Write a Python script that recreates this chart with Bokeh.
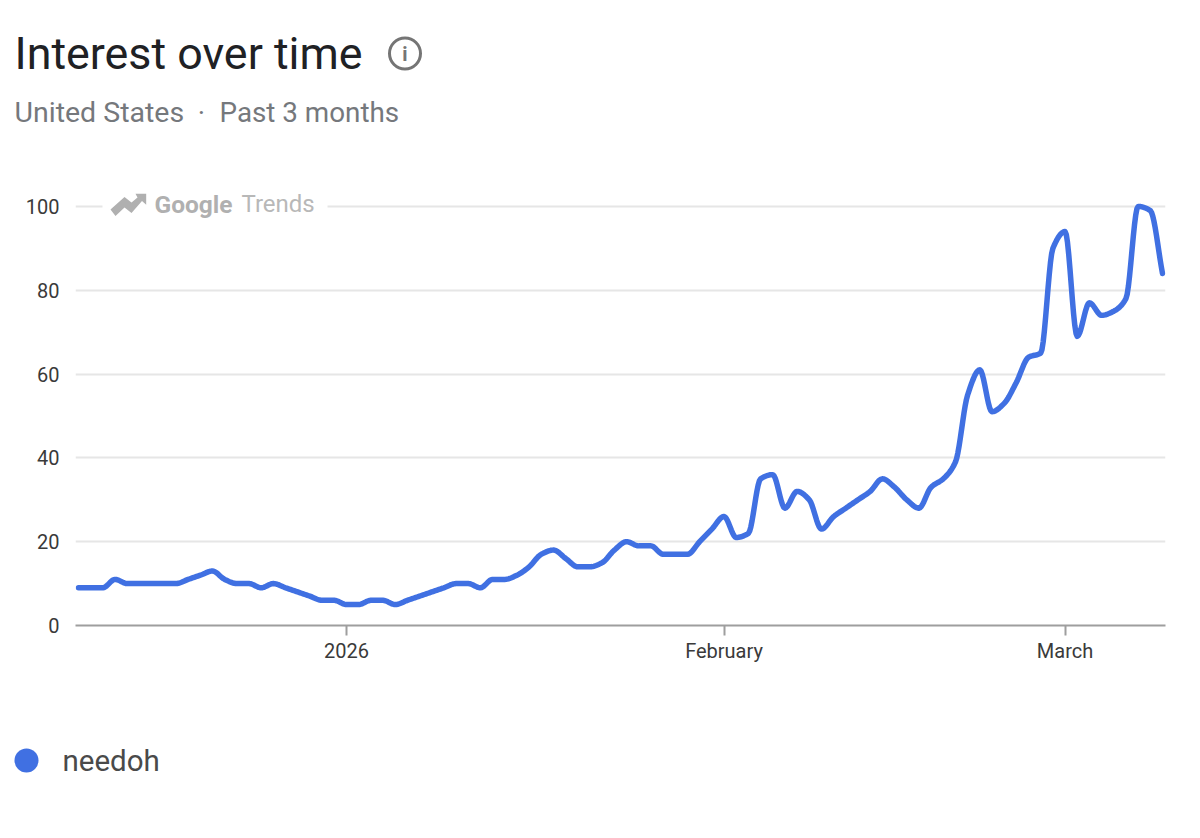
import numpy as np
import pandas as pd
from bokeh.plotting import figure
from bokeh.layouts import column
from bokeh.embed import file_html
from bokeh.resources import INLINE
from bokeh.core.properties import value
from bokeh.models import Label, BoxAnnotation, PolyAnnotation, FixedTicker, Range1d

title_text = "Interest over time"
subtitle_parts = ["United States", "·", "Past 3 months"]
series_name = "needoh"
start_date = "2025-12-10"
y_ticks = [0, 20, 40, 60, 80, 100]
x_tick_dates = ["2026-01-01", "2026-02-01", "2026-03-01"]
x_tick_labels = ["2026", "February", "March"]
interest = [
    9, 9, 9, 11, 10, 10, 10, 10, 10, 11,
    12, 13, 11, 10, 10, 9, 10, 9, 8, 7,
    6, 6, 5, 5, 6, 6, 5, 6, 7, 8,
    9, 10, 10, 9, 11, 11, 12, 14, 17, 18,
    16, 14, 14, 15, 18, 20, 19, 19, 17, 17,
    17, 20, 23, 26, 21, 22, 35, 36, 28, 32,
    30, 23, 26, 28, 30, 32, 35, 33, 30, 28,
    33, 35, 39, 55, 61, 51, 53, 58, 64, 65,
    90, 94, 69, 77, 74, 75, 78, 100, 99, 84,
]

BLUE = "#4070e2"
FONT = "Roboto"
W = 1196
TOP_H = 164
MAIN_H = 536
BOTTOM_H = 134
PLOT_LEFT = 78
PLOT_RIGHT = 1162
CAP_PAD = 2.5  # room so the line's round ends are not cut by the frame


def ms(d):
    return (pd.Timestamp(d) - pd.Timestamp("1970-01-01")) / pd.Timedelta(milliseconds=1)


def monotone_curve(x, y, n=10):
    # Fritsch-Carlson monotone cubic: only the drawing of the stroke, knots stay on the data
    x = np.asarray(x, float)
    y = np.asarray(y, float)
    h = np.diff(x)
    d = np.diff(y) / h
    m = np.zeros_like(y)
    m[1:-1] = np.where(d[:-1] * d[1:] > 0, 2 * d[:-1] * d[1:] / (d[:-1] + d[1:] + 1e-30), 0)
    m[0], m[-1] = d[0], d[-1]
    xs, ys = [], []
    for i in range(len(h)):
        t = np.linspace(0, 1, n, endpoint=False)
        xs.append(x[i] + t * h[i])
        ys.append((2*t**3 - 3*t**2 + 1) * y[i] + (t**3 - 2*t**2 + t) * h[i] * m[i]
                  + (-2*t**3 + 3*t**2) * y[i+1] + (t**3 - t**2) * h[i] * m[i+1])
    return np.append(np.concatenate(xs), x[-1]), np.append(np.concatenate(ys), y[-1])


def pixel_figure(height, page_top):
    # empty strip whose data units are page pixels
    f = figure(width=W, height=height, output_backend="svg", toolbar_location=None,
               x_axis_location=None, y_axis_location=None, min_border=0, frame_align=False,
               x_range=Range1d(0, W), y_range=Range1d(page_top + height, page_top))
    f.outline_line_color = None
    f.xgrid.visible = False
    f.ygrid.visible = False
    return f


def put_text(f, x, y, text, size, color, style="normal", align="left"):
    f.text([x], [y], text=[text], text_font=value(FONT), text_font_size=value(size),
           text_color=color, text_font_style=style, text_baseline="middle", text_align=align)


dates = pd.date_range(start_date, periods=len(interest), freq="D")
x_ms = np.array([ms(d) for d in dates])
cx, cy = monotone_curve(x_ms, interest)
ms_per_px = (x_ms[-1] - x_ms[0]) / (PLOT_RIGHT - PLOT_LEFT)

# header
head = pixel_figure(TOP_H, 0)
put_text(head, 14, 53, title_text, "44.8px", "#202124")
put_text(head, 14, 112, subtitle_parts[0], "28.5px", "#75787c")
put_text(head, 201, 112, subtitle_parts[1], "28px", "#75787c", align="center")
put_text(head, 219, 112, subtitle_parts[2], "27.8px", "#75787c")
head.scatter([404.5], [53], marker="circle", size=31, fill_alpha=0, line_color="#757575", line_width=3)
put_text(head, 404.5, 53.5, "i", "20px", "#757575", "bold", "center")

# chart
p = figure(width=W, height=MAIN_H, x_axis_type="datetime", output_backend="svg",
           toolbar_location=None, min_border_left=int(PLOT_LEFT - CAP_PAD),
           min_border_right=int(W - PLOT_RIGHT - CAP_PAD),
           min_border_top=0, min_border_bottom=MAIN_H - 461, frame_align=False,
           x_range=Range1d(x_ms[0] - 3 * ms_per_px, x_ms[-1] + 3 * ms_per_px), y_range=Range1d(0, 110))
p.outline_line_color = None
p.background_fill_color = "white"
p.border_fill_color = "white"

p.xgrid.grid_line_color = None
p.ygrid.grid_line_color = "#e6e6e6"
p.ygrid.grid_line_width = 2
p.ygrid.ticker = FixedTicker(ticks=y_ticks)

p.yaxis.ticker = FixedTicker(ticks=y_ticks)
p.yaxis.axis_line_color = None
p.yaxis.major_tick_line_color = None
p.yaxis.major_tick_out = 0
p.yaxis.major_tick_in = 0
p.yaxis.minor_tick_line_color = None
p.yaxis.major_label_standoff = 16
p.yaxis.major_label_text_font = FONT
p.yaxis.major_label_text_font_size = "20px"
p.yaxis.major_label_text_color = "#3a3a3a"

p.xaxis.ticker = FixedTicker(ticks=[ms(d) for d in x_tick_dates])
p.xaxis.major_label_overrides = {ms(d): t for d, t in zip(x_tick_dates, x_tick_labels)}
p.xaxis.axis_line_color = "#9e9e9e"
p.xaxis.axis_line_width = 2
p.xaxis.major_tick_line_color = "#9e9e9e"
p.xaxis.major_tick_line_width = 2
p.xaxis.major_tick_in = 0
p.xaxis.major_tick_out = 10
p.xaxis.minor_tick_line_color = None
p.xaxis.major_label_standoff = 3
p.xaxis.major_label_text_font = FONT
p.xaxis.major_label_text_font_size = "20px"
p.xaxis.major_label_text_color = "#3a3a3a"

# watermark backing interrupts the 100 gridline
p.add_layout(BoxAnnotation(left=102, right=327, top=190 - TOP_H, bottom=220 - TOP_H,
                           left_units="canvas", right_units="canvas", top_units="canvas",
                           bottom_units="canvas", fill_color="white", fill_alpha=1,
                           line_color=None, level="underlay"))

p.line(cx, cy, line_color=BLUE, line_width=5.5, line_cap="round", line_join="round", name=series_name)


def label(x, y, text, size, color, weight="normal"):
    p.add_layout(Label(x=x, y=y - TOP_H, x_units="canvas", y_units="canvas", text=text,
                       text_font=FONT, text_font_size=size, text_color=color,
                       text_font_style=weight, text_baseline="middle", text_align="left"))


label(154, 203.5, "Google", "24.5px", "#b0b0b0", "bold")
label(241, 203.5, "Trends", "24px", "#b8b8b8")

# Google Trends mark
arrow_x = [110, 124, 131, 137, 135, 145.7, 145.7, 141.5, 131, 124, 115]
arrow_y = [209, 196.5, 202, 197, 193.3, 193.3, 204.3, 200.5, 212.5, 207, 215.5]
p.add_layout(PolyAnnotation(xs=arrow_x, ys=[v - TOP_H for v in arrow_y],
                            xs_units="canvas", ys_units="canvas", fill_color="#b0b0b0",
                            fill_alpha=1, line_color=None, level="overlay"))

# legend strip
foot = pixel_figure(BOTTOM_H, TOP_H + MAIN_H)
foot.scatter([26], [760], marker="circle", size=24, fill_color=BLUE, line_color=None)
put_text(foot, 62, 760, series_name, "29.5px", "#4a4a4a")

layout = column(head, p, foot, spacing=0)
open("out.html", "w").write(file_html(layout, INLINE))
